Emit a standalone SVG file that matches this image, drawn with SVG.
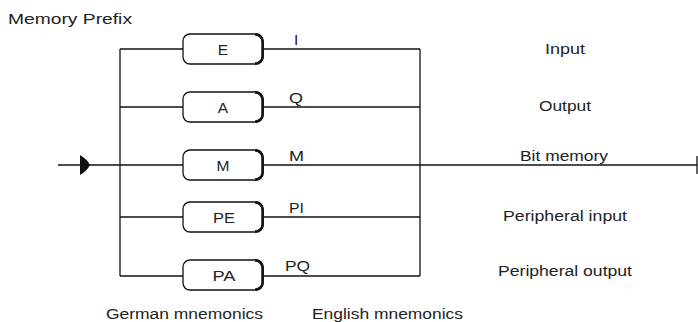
<svg xmlns="http://www.w3.org/2000/svg" width="698" height="322" viewBox="0 0 698 322">
<defs>
<style>
text{font-family:"Liberation Sans",Arial,sans-serif;fill:#222;font-size:15.5px}
.c{text-anchor:middle}
.ln{stroke:#111;stroke-width:1.3;fill:none}
.box{fill:#fff;stroke:#111;stroke-width:1.3}
.sh{fill:none;stroke:#111;stroke-width:2.6}
</style>
<g id="boxshape">
<rect class="box" x="0" y="0" width="80" height="30" rx="7"/>
<path class="sh" d="M72,0.6 A7,7 0 0 1 79.6,7.6 V22.4 A7,7 0 0 1 72,29.4"/>
</g>
</defs>
<rect width="698" height="322" fill="#fff"/>
<text x="8" y="24" font-size="16.5" textLength="124" lengthAdjust="spacingAndGlyphs">Memory Prefix</text>
<g id="connectors">
<line class="ln" x1="120" y1="49" x2="120" y2="276"/>
<line class="ln" x1="420" y1="49" x2="420" y2="276"/>
<line class="ln" x1="120" y1="49" x2="183" y2="49"/>
<line class="ln" x1="263" y1="49" x2="420" y2="49"/>
<line class="ln" x1="120" y1="107" x2="183" y2="107"/>
<line class="ln" x1="263" y1="107" x2="420" y2="107"/>
<line class="ln" x1="58" y1="165" x2="183" y2="165"/>
<line class="ln" x1="263" y1="165" x2="697" y2="165"/>
<line class="ln" x1="120" y1="217" x2="183" y2="217"/>
<line class="ln" x1="263" y1="217" x2="420" y2="217"/>
<line class="ln" x1="120" y1="276" x2="183" y2="276"/>
<line class="ln" x1="263" y1="276" x2="420" y2="276"/>
<line class="ln" x1="697" y1="156" x2="697" y2="174"/>
<path d="M80,155 Q87,159 90,165 Q87,171 80,175 Z" fill="#111"/>
</g>
<g id="node-E">
<use href="#boxshape" x="183" y="34"/>
<text class="c" x="223" y="55">E</text>
<text x="294" y="45">I</text>
<text x="545" y="54" textLength="40" lengthAdjust="spacingAndGlyphs">Input</text>
</g>
<g id="node-A">
<use href="#boxshape" x="183" y="92"/>
<text class="c" x="223" y="113">A</text>
<text x="289" y="103" textLength="14" lengthAdjust="spacingAndGlyphs">Q</text>
<text x="539" y="111" textLength="52" lengthAdjust="spacingAndGlyphs">Output</text>
</g>
<g id="node-M">
<use href="#boxshape" x="183" y="150"/>
<text class="c" x="223" y="171">M</text>
<text x="289" y="161" textLength="15" lengthAdjust="spacingAndGlyphs">M</text>
<text x="520" y="161" textLength="88" lengthAdjust="spacingAndGlyphs">Bit memory</text>
</g>
<g id="node-PE">
<use href="#boxshape" x="183" y="202"/>
<text class="c" x="224" y="223" textLength="22" lengthAdjust="spacingAndGlyphs">PE</text>
<text x="289" y="213" textLength="15" lengthAdjust="spacingAndGlyphs">PI</text>
<text x="503" y="221" textLength="124" lengthAdjust="spacingAndGlyphs">Peripheral input</text>
</g>
<g id="node-PA">
<use href="#boxshape" x="183" y="260"/>
<text class="c" x="224" y="281" textLength="23" lengthAdjust="spacingAndGlyphs">PA</text>
<text x="285" y="271" textLength="25" lengthAdjust="spacingAndGlyphs">PQ</text>
<text x="498" y="276" textLength="134" lengthAdjust="spacingAndGlyphs">Peripheral output</text>
</g>
<text x="106" y="319" textLength="157" lengthAdjust="spacingAndGlyphs">German mnemonics</text>
<text x="312" y="319" textLength="151" lengthAdjust="spacingAndGlyphs">English mnemonics</text>
</svg>
